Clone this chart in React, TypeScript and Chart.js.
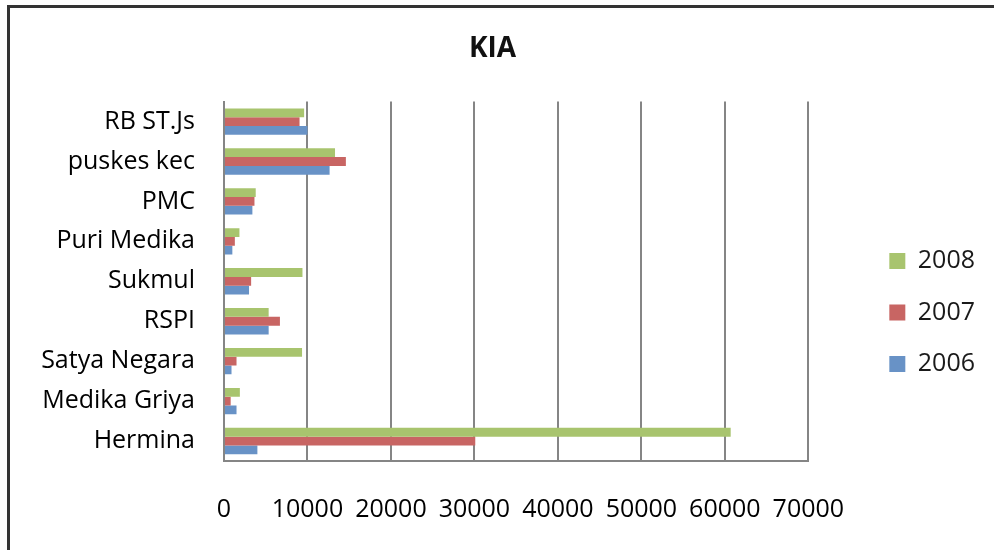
import React, { useEffect, useRef } from 'react';
import { Chart, registerables } from 'chart.js';

Chart.register(...registerables);

// ---- data ----
const categories = [
  'RB ST.Js',
  'puskes kec',
  'PMC',
  'Puri Medika',
  'Sukmul',
  'RSPI',
  'Satya Negara',
  'Medika Griya',
  'Hermina',
];
const seriesLabels = ['2008', '2007', '2006'];
const values2008 = [9600, 13300, 3800, 1850, 9400, 5350, 9350, 1900, 60700];
const values2007 = [9050, 14600, 3650, 1300, 3250, 6700, 1500, 800, 30100];
const values2006 = [10000, 12650, 3400, 1000, 3000, 5350, 900, 1500, 4000];
const xTicks = [0, 10000, 20000, 30000, 40000, 50000, 60000, 70000];

const seriesColors = ['#A8C46E', '#C86563', '#6892C6'];

const CANVAS_W = 994;
const CANVAS_H = 625;

export default function App() {
  const ref = useRef<HTMLCanvasElement>(null);

  useEffect(() => {
    const canvas = ref.current;
    if (!canvas) return;
    Chart.defaults.font.family = "'Open Sans', sans-serif";
    const seriesValues = [values2008, values2007, values2006];
    const chart = new Chart(canvas, {
      type: 'bar',
      data: {
        labels: categories,
        datasets: seriesLabels.map((label, i) => ({
          label,
          data: seriesValues[i],
          backgroundColor: seriesColors[i],
          borderWidth: 0,
        })),
      },
      options: {
        indexAxis: 'y',
        responsive: false,
        animation: false,
        devicePixelRatio: 1,
        layout: { padding: { left: 0, right: 9, top: 0, bottom: 0 } },
        datasets: { bar: { categoryPercentage: 0.66, barPercentage: 1 } },
        plugins: {
          title: {
            display: true,
            text: 'KIA',
            color: '#111',
            font: { size: 28, weight: 'bold' },
            padding: { top: 32, bottom: 36 },
          },
          legend: {
            position: 'right',
            align: 'center',
            labels: {
              boxWidth: 16,
              boxHeight: 16,
              padding: 26.5,
              color: '#1a1a1a',
              font: { size: 25 },
            },
          },
          tooltip: { enabled: false },
        },
        scales: {
          x: {
            type: 'linear',
            min: xTicks[0],
            max: xTicks[xTicks.length - 1],
            ticks: {
              stepSize: xTicks[1] - xTicks[0],
              padding: 34,
              color: '#000',
              font: { size: 25 },
              callback: (v: any) => String(v),
            },
            grid: { color: '#858585', lineWidth: 2, drawTicks: false },
            border: { color: '#858585', width: 2 },
            afterFit: (s: any) => {
              s.height = CANVAS_H - 461;
            },
          },
          y: {
            ticks: { padding: 29, color: '#000', font: { size: 25 } },
            grid: { display: false, drawTicks: false },
            border: { color: '#858585', width: 2 },
            afterFit: (s: any) => {
              s.width = 224;
            },
          },
          gap: {
            type: 'linear',
            position: 'right',
            display: true,
            min: 0,
            max: 1,
            ticks: { display: false },
            grid: { display: false, drawTicks: false },
            border: { display: false },
            afterFit: (s: any) => {
              s.width = 54.5;
            },
          },
        },
      } as any,
    });
    return () => chart.destroy();
  }, []);

  return (
    <div
      style={{
        position: 'fixed',
        left: 0,
        top: 0,
        width: CANVAS_W,
        height: 550,
        overflow: 'hidden',
        background: '#fff',
      }}
    >
      <div
        style={{
          position: 'absolute',
          left: 7,
          top: 5,
          width: 1010,
          height: 620,
          border: '3px solid #333',
          boxSizing: 'border-box',
        }}
      />
      <canvas
        ref={ref}
        width={CANVAS_W}
        height={CANVAS_H}
        style={{ position: 'absolute', left: 0, top: 0, display: 'block' }}
      />
    </div>
  );
}
